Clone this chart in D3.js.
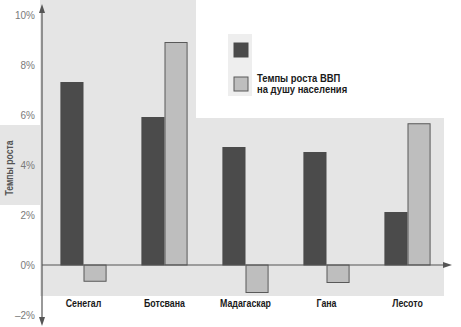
<!DOCTYPE html>
<html>
<head>
<meta charset="utf-8">
<script src="https://cdn.jsdelivr.net/npm/d3@7"></script>
<style>
  html, body { margin: 0; padding: 0; background: #ffffff; }
  svg { display: block; }
</style>
</head>
<body>
<svg id="chart" width="461" height="327"></svg>
<script>
// Growth rates by country, percent
const countries = ["Сенегал", "Ботсвана", "Мадагаскар", "Гана", "Лесото"];
const gdpGrowth = [7.3, 5.9, 4.7, 4.5, 2.1];
const gdpPerCapitaGrowth = [-0.65, 8.9, -1.1, -0.7, 5.65];
const yTicks = [-2, 0, 2, 4, 6, 8, 10];
const seriesKeys = ["gdp", "perCapita"];
const legendLabels = ["", "Темпы роста ВВП\nна душу населения"];
const yTitle = "Темпы роста";

const rows = countries.map((c, i) => ({ country: c, gdp: gdpGrowth[i], perCapita: gdpPerCapitaGrowth[i] }));

const W = 461, H = 327;
const axisX = 42, zeroArrowEnd = 452;
const svg = d3.select("#chart");
const font = "'Liberation Sans Narrow', 'Arial Narrow', 'Liberation Sans', Arial, sans-serif";

// paper tone behind the plot
const paper = "#e5e5e5";
svg.append("rect").attr("x", 0).attr("y", 0).attr("width", W).attr("height", H).attr("fill", "#ffffff");
svg.append("rect").attr("x", 40).attr("y", 0).attr("width", 156).attr("height", 120).attr("fill", paper);
svg.append("rect").attr("x", 40).attr("y", 118).attr("width", 404).attr("height", 178).attr("fill", paper);
svg.append("rect").attr("x", 0).attr("y", 125).attr("width", 40).attr("height", 80).attr("fill", paper);
svg.append("rect").attr("x", 228).attr("y", 34).attr("width", 24).attr("height", 62).attr("fill", "#eeeeee");

const y = d3.scaleLinear().domain([-2, 10]).range([315, 15]);
const x0 = d3.scaleBand().domain(countries).range([43, 448]).paddingInner(0.43).paddingOuter(0.215);
const x1 = d3.scaleBand().domain(seriesKeys).range([0, x0.bandwidth()]);
const fill = d3.scaleOrdinal().domain(seriesKeys).range(["#4b4b4b", "#bebebe"]);
const stroke = d3.scaleOrdinal().domain(seriesKeys).range(["#4b4b4b", "#595959"]);

// bars
const groups = svg.append("g").selectAll("g").data(rows).join("g")
  .attr("transform", d => `translate(${x0(d.country)},0)`);
groups.selectAll("rect")
  .data(d => seriesKeys.map(k => ({ key: k, value: d[k] })))
  .join("rect")
  .attr("x", d => x1(d.key) + 0.5)
  .attr("width", x1.bandwidth() - 1)
  .attr("y", d => y(Math.max(0, d.value)))
  .attr("height", d => Math.abs(y(d.value) - y(0)))
  .attr("fill", d => fill(d.key))
  .attr("stroke", d => stroke(d.key))
  .attr("stroke-width", 1);

// axes with arrowheads
const axisColor = "#555555";
svg.append("line").attr("x1", axisX).attr("x2", axisX).attr("y1", 8).attr("y2", 322)
  .attr("stroke", axisColor).attr("stroke-width", 1.2);
svg.append("line").attr("x1", axisX).attr("x2", zeroArrowEnd - 4).attr("y1", y(0)).attr("y2", y(0))
  .attr("stroke", axisColor).attr("stroke-width", 1.2);
const arrows = [
  [[axisX, 4], [axisX - 3, 13], [axisX + 3, 13]],
  [[axisX, 326], [axisX - 3, 317], [axisX + 3, 317]],
  [[zeroArrowEnd, y(0)], [zeroArrowEnd - 9, y(0) - 3], [zeroArrowEnd - 9, y(0) + 3]]
];
svg.append("g").selectAll("path").data(arrows).join("path")
  .attr("d", d => d3.line()(d) + "Z").attr("fill", axisColor);

// y tick labels
const yAxis = d3.axisLeft(y).tickValues(yTicks).tickSize(0).tickPadding(7)
  .tickFormat(d => (d < 0 ? "–" + Math.abs(d) : d) + "%");
const ya = svg.append("g").attr("transform", `translate(${axisX},0)`).call(yAxis);
ya.select(".domain").remove();
ya.selectAll("text").attr("fill", "#7a7a7a").attr("font-family", font).attr("font-size", 10);

// category labels (narrowed bold type)
svg.append("g").selectAll("text").data(countries).join("text")
  .attr("transform", d => `translate(${x0(d) + x0.bandwidth() / 2},307) scale(0.8,1)`)
  .attr("text-anchor", "middle")
  .attr("font-family", font).attr("font-weight", "bold").attr("font-size", 11)
  .attr("fill", "#1a1a1a")
  .text(d => d);

// y title
svg.append("text")
  .attr("transform", "translate(13,168) rotate(-90) scale(0.82,1)")
  .attr("text-anchor", "middle")
  .attr("font-family", font).attr("font-weight", "bold").attr("font-size", 10.5)
  .attr("fill", "#555555")
  .text(yTitle);

// legend
const legend = svg.append("g").attr("transform", "translate(234,43)");
const items = legend.selectAll("g").data(seriesKeys).join("g")
  .attr("transform", (d, i) => `translate(0,${i * 34})`);
items.append("rect").attr("width", 14).attr("height", 14)
  .attr("fill", d => fill(d)).attr("stroke", d => stroke(d));
items.append("text")
  .attr("transform", "translate(23,5) scale(0.9,1)")
  .attr("font-family", font).attr("font-weight", "bold").attr("font-size", 10.5)
  .attr("fill", "#1a1a1a")
  .selectAll("tspan").data((d, i) => legendLabels[i].split("\n").filter(s => s)).join("tspan")
  .attr("x", 0).attr("dy", (d, i) => i === 0 ? 0 : 11)
  .text(d => d);
</script>
</body>
</html>
